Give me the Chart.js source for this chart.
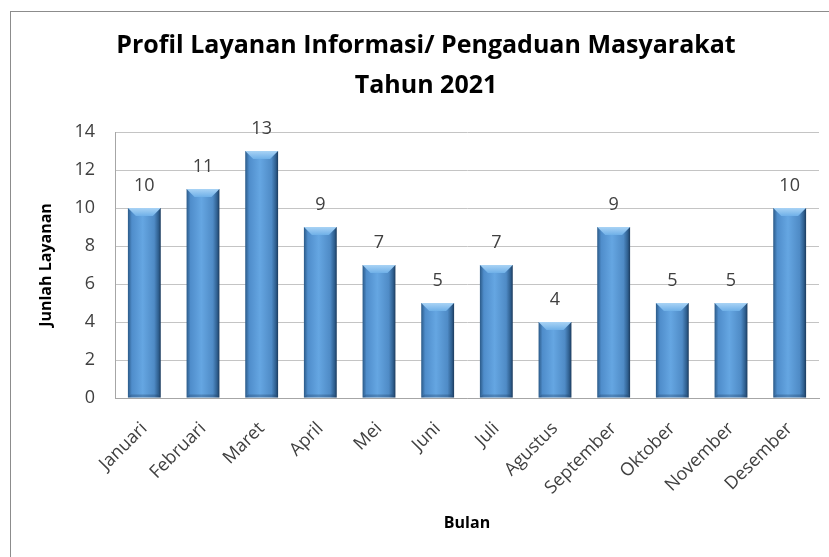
<!DOCTYPE html>
<html>
<head>
<meta charset="utf-8">
<script src="https://cdn.jsdelivr.net/npm/chart.js@4"></script>
<style>
html, body { margin: 0; padding: 0; background: #fff; }
#wrap { width: 829px; height: 557px; }
</style>
</head>
<body>
<div id="wrap"><canvas id="layananChart"></canvas></div>
<script>
const bulan = ['Januari', 'Februari', 'Maret', 'April', 'Mei', 'Juni', 'Juli', 'Agustus', 'September', 'Oktober', 'November', 'Desember'];
const jumlahLayanan = [10, 11, 13, 9, 7, 5, 7, 4, 9, 5, 5, 10];
const judul = ['Profil Layanan Informasi/ Pengaduan Masyarakat', 'Tahun 2021'];

const fontName = '"Open Sans", "Noto Sans", sans-serif';
const barPct = 0.56;

// horizontal shading so the bars look rounded like the excel ones
function barFill(context){
    const chart = context.chart;
    const xs = chart.scales.x;
    if (!xs || context.dataIndex === undefined) return '#5b9bd5';
    const cx = xs.getPixelForValue(context.dataIndex);
    const w = (xs.width / bulan.length) * barPct;
    if (!isFinite(cx) || !isFinite(w) || w <= 0) return '#5b9bd5';
    const g = chart.ctx.createLinearGradient(cx - w / 2, 0, cx + w / 2, 0);
    g.addColorStop(0, '#2b5a88');
    g.addColorStop(0.12, '#4f8dcb');
    g.addColorStop(0.45, '#65a6e2');
    g.addColorStop(0.8, '#4f8bc6');
    g.addColorStop(0.93, '#2f5f8f');
    g.addColorStop(1, '#1b3a5c');
    return g;
}

const frame = {
    id: 'frame',
    beforeDraw(chart){
        const c = chart.ctx;
        c.save();
        c.fillStyle = '#fff';
        c.fillRect(0, 0, chart.width, chart.height);
        c.strokeStyle = '#8c8c8c';
        c.lineWidth = 1;
        c.strokeRect(10.5, 11.5, chart.width + 20, chart.height + 20);
        c.restore();
    }
};

// bevel on top/bottom of each bar + value labels
const bevelLabels = {
    id: 'bevelLabels',
    afterDatasetsDraw(chart){
        const c = chart.ctx;
        const meta = chart.getDatasetMeta(0);
        c.save();
        meta.data.forEach((bar, i) => {
            if (!isFinite(bar.x) || !isFinite(bar.y) || !isFinite(bar.base)) return;
            const l = bar.x - bar.width / 2, r = bar.x + bar.width / 2;
            const t = bar.y, b = bar.base;
            const d = Math.min(8, (b - t) / 2);
            const g = c.createLinearGradient(0, t, 0, t + d);
            g.addColorStop(0, '#a9d3f5');
            g.addColorStop(1, '#6fb0e8');
            c.fillStyle = g;
            c.beginPath();
            c.moveTo(l, t); c.lineTo(r, t); c.lineTo(r - d, t + d); c.lineTo(l + d, t + d);
            c.closePath();
            c.fill();
            c.fillStyle = 'rgba(30,60,95,0.3)';
            c.beginPath();
            c.moveTo(l, b); c.lineTo(r, b); c.lineTo(r - 3, b - 3); c.lineTo(l + 3, b - 3);
            c.closePath();
            c.fill();

            c.fillStyle = '#404040';
            c.font = '18px ' + fontName;
            c.textAlign = 'center';
            c.textBaseline = 'middle';
            c.fillText(String(jumlahLayanan[i]), bar.x, t - 22);
        });
        c.restore();
    }
};

new Chart(document.getElementById('layananChart'), {
    type: 'bar',
    data: {
        labels: bulan,
        datasets: [{
            label: 'Junlah Layanan',
            data: jumlahLayanan,
            backgroundColor: barFill,
            borderWidth: 0,
            categoryPercentage: 1,
            barPercentage: barPct,
        }]
    },
    options: {
        responsive: true,
        maintainAspectRatio: false,
        animation: false,
        layout: {
            padding: { left: 33, right: 10, top: 0, bottom: 20 }
        },
        scales: {
            x: {
                grid: { display: false, drawTicks: false },
                border: { color: '#a6a6a6' },
                ticks: {
                    color: '#404040',
                    font: { family: fontName, size: 18 },
                    minRotation: 45,
                    maxRotation: 45,
                    padding: 20,
                },
                title: {
                    display: true,
                    text: 'Bulan',
                    color: '#000',
                    font: { family: fontName, size: 16, weight: 'bold' },
                },
                afterFit(scale){ scale.height = 139; }
            },
            y: {
                min: 0,
                max: 14,
                grid: { color: '#c4c4c4', drawTicks: false },
                border: { color: '#a6a6a6' },
                ticks: {
                    stepSize: 2,
                    color: '#404040',
                    font: { family: fontName, size: 18 },
                    padding: 20,
                },
                title: {
                    display: true,
                    text: 'Junlah Layanan',
                    color: '#000',
                    font: { family: fontName, size: 16, weight: 'bold' },
                },
                afterFit(scale){ scale.width = 82; }
            }
        },
        plugins: {
            legend: { display: false },
            tooltip: { enabled: false },
            title: {
                display: true,
                text: judul,
                color: '#000',
                font: { family: fontName, size: 25, weight: 'bold', lineHeight: 1.6 },
                padding: { top: 26, bottom: 26 },
            }
        }
    },
    plugins: [frame, bevelLabels]
});
</script>
</body>
</html>
